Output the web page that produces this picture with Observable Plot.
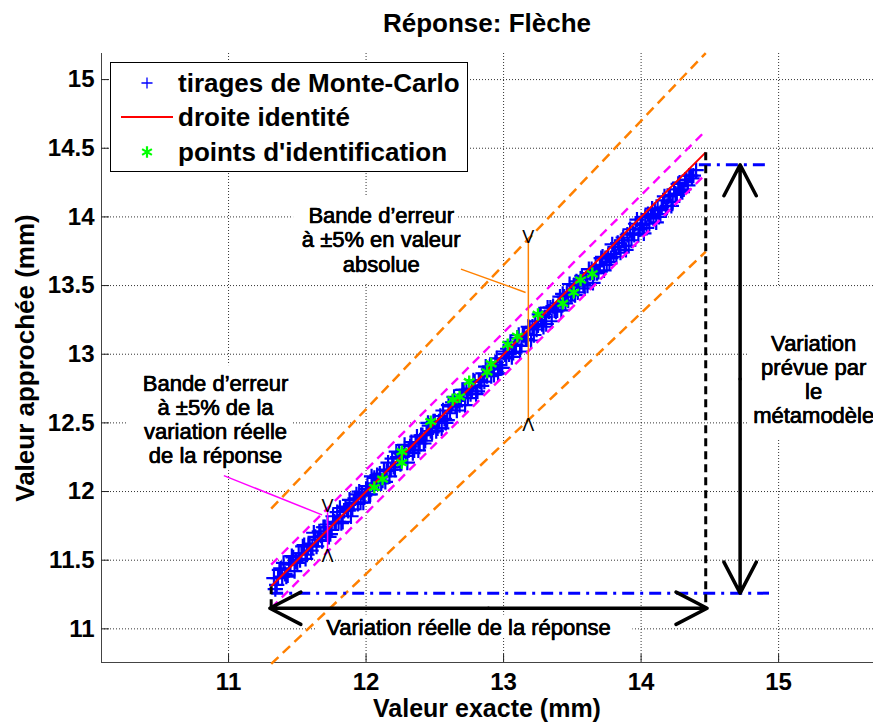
<!DOCTYPE html>
<html><head><meta charset="utf-8">
<script src="https://cdn.jsdelivr.net/npm/d3@7"></script>
<script src="https://cdn.jsdelivr.net/npm/@observablehq/plot@0.6"></script>
<style>
body{margin:0;background:#fff;font-family:"Liberation Sans",Arial,Helvetica,sans-serif;}
#wrap{position:relative;width:873px;height:723px;overflow:hidden;background:#fff;}
#wrap svg{display:block;}
.lbl{position:absolute;font-weight:bold;color:#000;white-space:nowrap;transform:translate(-50%,-50%);line-height:1;}
</style></head><body><div id="wrap"></div>
<script>
// ---- data ----
// Monte-Carlo draws (exact value, approximated value)
const mcX = [11.33,11.35,11.36,11.38,11.41,11.43,11.44,11.47,11.49,11.50,11.53,11.55,11.57,11.58,11.61,11.63,11.64,11.67,11.69,11.71,11.72,11.75,11.77,11.79,
11.80,11.82,11.84,11.85,11.87,11.90,11.91,11.93,11.96,11.97,11.99,12.01,12.03,12.05,12.06,12.09,12.10,12.12,12.15,12.16,12.18,12.21,12.23,12.24,12.27,12.29,
12.31,12.33,12.34,12.36,12.39,12.40,12.42,12.44,12.46,12.48,12.50,12.52,12.53,12.56,12.57,12.59,12.62,12.63,12.65,12.68,12.69,12.71,12.74,12.75,12.77,12.79,
12.81,12.83,12.85,12.86,12.89,12.91,12.92,12.95,12.97,12.98,13.01,13.03,13.04,13.07,13.09,13.10,13.13,13.15,13.16,13.19,
13.21,13.22,13.25,13.27,13.28,13.31,13.33,13.34,13.37,13.39,13.40,13.43,13.45,13.46,13.49,13.51,13.52,13.55,13.57,13.58,
13.61,13.63,13.64,13.66,13.69,13.70,13.72,13.75,13.76,13.78,13.81,13.82,13.84,13.87,13.88,13.90,13.93,13.94,13.96,13.99,
14.01,14.03,14.04,14.07,14.09,14.10,14.13,14.15,14.16,14.19,14.21,14.23,14.25,14.27,14.29,14.31,14.33,14.35,14.37,14.40];
const mcY = [11.37,11.32,11.37,11.44,11.40,11.39,11.47,11.52,11.49,11.48,11.55,11.61,11.54,11.61,11.60,11.67,11.60,11.68,11.74,11.69,11.76,11.72,11.78,11.85,
11.78,11.77,11.86,11.89,11.86,11.87,11.92,11.98,11.92,11.99,11.97,12.04,11.98,12.05,12.10,12.06,12.13,12.08,12.15,12.21,12.16,12.16,12.25,12.28,12.26,12.26,
12.30,12.36,12.28,12.36,12.35,12.41,12.35,12.42,12.48,12.43,12.51,12.46,12.51,12.59,12.53,12.52,12.62,12.65,12.62,12.63,12.68,12.74,12.68,12.75,12.73,12.80,
12.73,12.80,12.86,12.80,12.89,12.84,12.89,12.97,12.92,12.90,13.00,13.04,13.00,13.01,13.07,13.12,13.06,13.14,13.11,13.19,
13.20,13.14,13.21,13.28,13.22,13.22,13.31,13.34,13.32,13.32,13.37,13.44,13.37,13.44,13.43,13.50,13.43,13.51,13.57,13.51,
13.50,13.59,13.62,13.59,13.60,13.65,13.71,13.65,13.72,13.70,13.78,13.71,13.78,13.85,13.79,13.87,13.83,13.88,13.95,13.91,
13.94,14.00,13.92,14.01,13.99,14.05,14.00,14.07,14.12,14.08,14.16,14.11,14.17,14.24,14.19,14.20,14.27,14.30,14.28,14.34];
const mcX2 = [11.34,11.37,11.39,11.40,11.42,11.45,11.46,11.48,11.51,11.52,11.54,11.56,11.59,11.60,11.62,11.65,11.66,11.68,11.70,11.73,11.74,11.76,11.78,
11.81,11.83,11.86,11.88,11.89,11.92,11.94,11.95,11.98,12.00,12.02,12.04,12.07,12.08,12.11,12.13,12.14,12.17,12.19,12.20,12.22,12.25,12.26,12.28,
12.30,12.32,12.35,12.37,12.38,12.41,12.43,12.45,12.47,12.49,12.51,12.54,12.55,12.58,12.60,12.61,12.64,12.66,12.67,12.70,12.72,12.73,12.76,12.78,
12.80,12.82,12.84,12.87,12.88,12.90,12.93,12.94,12.96,12.99,13.00,13.02,13.05,13.06,13.08,13.11,13.12,13.14,13.17,13.18,
13.20,13.23,13.24,13.26,13.29,13.30,13.32,13.35,13.36,13.38,13.41,13.42,13.44,13.47,13.48,13.50,13.53,13.54,13.56,13.59,
13.60,13.62,13.65,13.67,13.68,13.71,13.73,13.74,13.77,13.79,13.80,13.83,13.85,13.86,13.89,13.91,13.92,13.95,13.97,13.98,
14.00,14.02,14.05,14.06,14.08,14.11,14.12,14.14,14.17,14.18,14.20,14.22,14.24,14.26,14.28,14.30,14.32,14.34,14.36,14.38];
const mcY2 = [11.29,11.43,11.38,11.48,11.38,11.47,11.53,11.42,11.55,11.50,11.60,11.51,11.62,11.57,11.70,11.65,11.71,11.64,11.74,11.67,11.69,11.82,11.77,
11.88,11.78,11.87,11.94,11.82,11.95,11.91,12.00,11.92,12.02,11.98,12.11,12.06,12.12,12.06,12.16,12.07,12.11,12.24,12.18,12.29,12.20,12.27,12.34,
12.21,12.33,12.30,12.40,12.30,12.41,12.37,12.50,12.44,12.51,12.44,12.55,12.46,12.50,12.63,12.57,12.69,12.59,12.66,12.74,12.63,12.74,12.71,12.81,
12.71,12.81,12.77,12.91,12.84,12.91,12.85,12.94,12.86,12.90,13.02,12.97,13.09,12.98,13.06,13.14,13.02,13.14,13.11,13.20,
13.10,13.24,13.18,13.29,13.20,13.27,13.34,13.24,13.35,13.31,13.42,13.32,13.42,13.39,13.51,13.45,13.53,13.45,13.55,13.48,
13.55,13.62,13.52,13.64,13.59,13.70,13.61,13.70,13.67,13.80,13.73,13.81,13.74,13.83,13.76,13.79,13.91,13.87,13.98,13.87,
13.95,13.88,14.02,13.95,14.06,13.96,14.06,14.02,14.15,14.05,14.15,14.08,14.20,14.16,14.25,14.18,14.27,14.23,14.30,14.30];
// identification points
const idX = [12.06,12.12,12.26,12.26,12.47,12.63,12.68,12.75,12.88,12.91,13.03,13.10,13.25,13.43,13.51,13.56,13.645];
const idY = [12.03,12.09,12.21,12.29,12.51,12.67,12.69,12.80,12.87,12.93,13.07,13.13,13.29,13.37,13.45,13.54,13.585];
const exactRange = [11.31, 14.47];     // variation réelle
const predRange = [11.26, 14.38];      // variation prévue
const predLineStart = [11.31, 14.42];
const predLineEnd = 14.93;
const arrowLevelY = 11.15;
const arrowLevelX = 14.72;
const bandPct = 0.05;
const absMarkX = 13.18;
const relMarkX = 11.72;
const xTicks = [11, 12, 13, 14, 15];
const yTicks = [11, 11.5, 12, 12.5, 13, 13.5, 14, 14.5, 15];
const xDomain = [10.076, 15.69];
const yDomain = [10.755, 15.19];
const annoTexts = [
  {x: 12.11, y: 13.835, text: "Bande d’erreur\nà ±5% en valeur\nabsolue"},
  {x: 10.905, y: 12.527, text: "Bande d’erreur\nà ±5% de la\nvariation réelle\nde la réponse"},
  {x: 12.745, y: 11.009, text: "Variation réelle de la réponse"},
  {x: 15.255, y: 12.819, text: "Variation\nprévue par\nle\nmétamodèle"}
];
const annoBoxes = [
  {x1: 11.473, x2: 12.673, y1: 14.148, y2: 13.514},
  {x1: 10.265, x2: 11.465, y1: 12.917, y2: 12.152},
  {x1: 11.647, x2: 13.94, y1: 11.10, y2: 10.93},
  {x1: 14.775, x2: 15.69, y1: 13.485, y2: 12.385}
];
const leaders = [
  {x1: 12.69, y1: 13.62, x2: 13.16, y2: 13.45, c: "abs"},
  {x1: 10.966, y1: 12.116, x2: 11.68, y2: 11.83, c: "rel"}
];
const titleText = "Réponse: Flèche";
const xLabel = "Valeur exacte (mm)";
const yLabel = "Valeur approchée (mm)";
const legendItems = ["tirages de Monte-Carlo", "droite identité", "points d'identification"];

// ---- derived ----
const BLUE = "#0000ff", RED = "#ff0000", GREEN = "#00ff00", MAG = "#ff00ff", ORA = "#ff8000";
const mc = mcX.map((x, i) => ({x, y: mcY[i]})).concat(mcX2.map((x, i) => ({x, y: mcY2[i]})));
const ids = idX.map((x, i) => ({x, y: idY[i]}));
const [x0, x1] = exactRange;
const delta = bandPct * (x1 - x0);
const identity = [{x1: x0, y1: x0, x2: x1, y2: x1}];
const relBands = [{x1: x0, y1: x0 + delta, x2: x1, y2: x1 + delta}, {x1: x0, y1: x0 - delta, x2: x1, y2: x1 - delta}];
const absBands = [{x1: x0, y1: x0 * (1 + bandPct), x2: x1, y2: x1 * (1 + bandPct)}, {x1: x0, y1: x0 * (1 - bandPct), x2: x1, y2: x1 * (1 - bandPct)}];
const predLines = [
  {x1: predLineStart[1], y1: predRange[1], x2: predLineEnd, y2: predRange[1]},
  {x1: predLineStart[0], y1: predRange[0], x2: predLineEnd, y2: predRange[0]}
];
const dashedV = [{x1: x1, y1: x1, x2: x1, y2: arrowLevelY}, {x1: x0, y1: x0, x2: x0, y2: arrowLevelY}];
const midX = (x0 + x1) / 2, midY = (predRange[0] + predRange[1]) / 2;
const arrows = [
  {x1: midX, y1: arrowLevelY, x2: x0 - 0.01, y2: arrowLevelY},
  {x1: midX, y1: arrowLevelY, x2: x1 + 0.01, y2: arrowLevelY},
  {x1: arrowLevelX, y1: midY, x2: arrowLevelX, y2: predRange[0]},
  {x1: arrowLevelX, y1: midY, x2: arrowLevelX, y2: predRange[1]}
];
const absSeg = [{x1: absMarkX, y1: absMarkX * (1 + bandPct), x2: absMarkX, y2: absMarkX * (1 - bandPct)}];
const relSeg = [{x1: relMarkX, y1: relMarkX + delta, x2: relMarkX, y2: relMarkX - delta}];
const tipsTop = [{x: absMarkX, y: absMarkX * (1 + bandPct)}, {x: relMarkX, y: relMarkX + delta}];
const tipsBot = [{x: absMarkX, y: absMarkX * (1 - bandPct)}, {x: relMarkX, y: relMarkX - delta}];

const FONT = "Liberation Sans, Arial, Helvetica, sans-serif";
const link = (data, o) => Plot.link(data, {x1: "x1", y1: "y1", x2: "x2", y2: "y2", ...o});

const chart = Plot.plot({
  width: 873, height: 723,
  marginLeft: 101, marginRight: 0, marginTop: 53, marginBottom: 61,
  style: {fontFamily: FONT, background: "white", overflow: "visible"},
  x: {domain: xDomain, ticks: xTicks},
  y: {domain: yDomain, ticks: yTicks},
  marks: [
    Plot.gridX(xTicks, {stroke: "#000", strokeOpacity: 0.8, strokeDasharray: "1,2"}),
    Plot.gridY(yTicks, {stroke: "#000", strokeOpacity: 0.8, strokeDasharray: "1,2"}),
    Plot.rect(annoBoxes, {x1: "x1", x2: "x2", y1: "y1", y2: "y2", fill: "white"}),
    Plot.ruleX([xDomain[0]], {stroke: "#444"}),
    Plot.ruleY([yDomain[0]], {stroke: "#444"}),
    Plot.axisX(xTicks, {tickSize: 8, dy: -8, fill: "none", stroke: "#222"}),
    Plot.axisY(yTicks, {tickSize: 8, dx: 8, fill: "none", stroke: "#222"}),
    Plot.axisX(xTicks, {tickSize: 0, tickPadding: 10, fontSize: 24, fontWeight: "bold", label: null, tickFormat: d => String(d)}),
    Plot.axisY(yTicks, {tickSize: 0, tickPadding: 7, fontSize: 24, fontWeight: "bold", label: null, tickFormat: d => String(d)}),
    Plot.dot(mc, {x: "x", y: "y", symbol: "plus", r: 5, stroke: BLUE, strokeWidth: 2.2}),
    link(identity, {stroke: RED, strokeWidth: 2}),
    Plot.dot(ids, {x: "x", y: "y", symbol: "asterisk", r: 5.8, stroke: GREEN, strokeWidth: 2.4}),
    link(relBands, {stroke: MAG, strokeWidth: 2.4, strokeDasharray: "9,6"}),
    link(absBands, {stroke: ORA, strokeWidth: 2.5, strokeDasharray: "10,6"}),
    link(predLines, {stroke: BLUE, strokeWidth: 3, strokeDasharray: "12,6,3,6"}),
    link(dashedV, {stroke: "#000", strokeWidth: 3, strokeDasharray: "8,5"}),
    Plot.arrow(arrows, {x1: "x1", y1: "y1", x2: "x2", y2: "y2", stroke: "#000", strokeWidth: 3.5, headLength: 15, headAngle: 55}),
    link(absSeg, {stroke: ORA, strokeWidth: 1.5}),
    link(relSeg, {stroke: MAG, strokeWidth: 1.5}),
    link(leaders.filter(d => d.c === "abs"), {stroke: ORA, strokeWidth: 1.5}),
    link(leaders.filter(d => d.c === "rel"), {stroke: MAG, strokeWidth: 1.5}),
    Plot.text(tipsTop, {x: "x", y: "y", text: () => "V", fontSize: 18, dy: -2, fill: "#000"}),
    Plot.text(tipsBot, {x: "x", y: "y", text: () => "Λ", fontSize: 18, dy: 5, fill: "#000"}),
    Plot.text(annoTexts, {x: "x", y: "y", text: "text", fontSize: 22, lineHeight: 1.1, fill: "#000", stroke: "white", strokeWidth: 6, textAnchor: "middle"}),
    Plot.text(annoTexts, {x: "x", y: "y", text: "text", fontSize: 22, lineHeight: 1.1, fill: "#000", stroke: "#000", strokeWidth: 0.6, textAnchor: "middle"})
  ]
});

const wrap = document.getElementById("wrap");
wrap.appendChild(chart);

function addLabel(text, x, y, size, rotate) {
  const d = document.createElement("div");
  d.className = "lbl";
  d.textContent = text;
  d.style.left = x + "px"; d.style.top = y + "px";
  d.style.fontSize = size + "px";
  if (rotate) d.style.transform = "translate(-50%,-50%) rotate(-90deg)";
  wrap.appendChild(d);
}
addLabel(titleText, 487, 23, 26);
addLabel(xLabel, 487, 708, 25);
addLabel(yLabel, 25, 358, 26, true);

// legend
const lg = d3.create("svg").attr("width", 358).attr("height", 110)
  .style("position", "absolute").style("left", "110px").style("top", "62px");
lg.append("rect").attr("x", 0.5).attr("y", 0.5).attr("width", 357).attr("height", 109)
  .attr("fill", "white").attr("stroke", "#000").attr("stroke-width", 1);
lg.append("path").attr("d", d3.symbol(d3.symbolPlus, 42)()).attr("transform", "translate(37,21)")
  .attr("fill", "none").attr("stroke", BLUE).attr("stroke-width", 1.3);
lg.append("line").attr("x1", 11).attr("x2", 63).attr("y1", 55).attr("y2", 55)
  .attr("stroke", RED).attr("stroke-width", 2);
lg.append("path").attr("d", d3.symbol(d3.symbolAsterisk, 90)()).attr("transform", "translate(37,90)")
  .attr("fill", "none").attr("stroke", GREEN).attr("stroke-width", 2.2);
lg.selectAll("text.it").data(legendItems).join("text")
  .attr("x", 68).attr("y", (d, i) => [21, 55, 90][i]).attr("dy", "0.36em")
  .attr("font-family", FONT).attr("font-weight", "bold").attr("font-size", 26)
  .attr("fill", "#000").text(d => d);
wrap.appendChild(lg.node());
</script></body></html>
